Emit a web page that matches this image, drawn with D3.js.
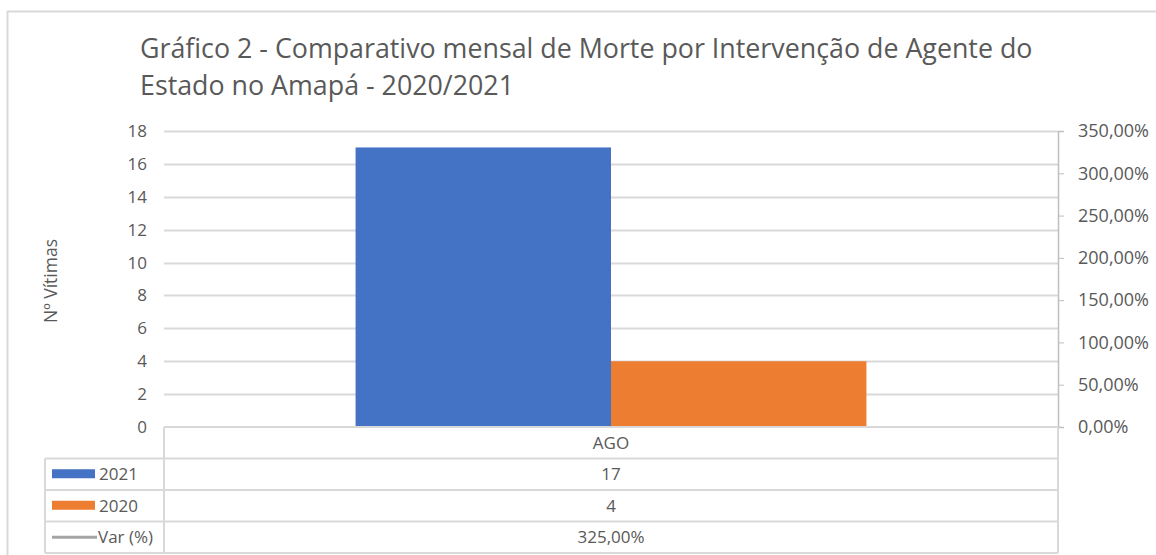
<!DOCTYPE html>
<html>
<head>
<meta charset="utf-8">
<script src="https://cdn.jsdelivr.net/npm/d3@7"></script>
<style>
  body { margin: 0; background: #fff; }
  svg text { font-family: 'Open Sans', 'Noto Sans', sans-serif; fill: #595959; }
</style>
</head>
<body>
<div id="chart"></div>
<script>
const categories = ['AGO'];
const seriesNames = ['2021', '2020', 'Var (%)'];
const values2021 = [17];
const values2020 = [4];
const varPct = [325];
const leftTicks = [0, 2, 4, 6, 8, 10, 12, 14, 16, 18];
const rightTicks = [0, 50, 100, 150, 200, 250, 300, 350];
const colors = ['#4472c4', '#ed7d31', '#a5a5a5'];

const W = 1156, H = 555;
const svg = d3.select('#chart')
  .append('svg')
  .attr('width', W)
  .attr('height', H)

// chart border
svg.append('rect')
  .attr('x', 7.5).attr('y', 11.5)
  .attr('width', W + 20).attr('height', H + 20)
  .attr('fill', 'none')
  .attr('stroke', '#d9d9d9')
  .attr('stroke-width', 2)

// title
const title = svg.append('text')
  .attr('x', 140)
  .style('font-size', '26.8px')
title.append('tspan').attr('x', 140).attr('y', 58)
  .text('Gráfico 2 - Comparativo mensal de Morte por Intervenção de Agente do')
title.append('tspan').attr('x', 140).attr('y', 95)
  .text('Estado no Amapá - 2020/2021')

const pLeft = 164, pRight = 1058, pTop = 131, pBottom = 427;

const x = d3.scaleBand()
  .domain(categories)
  .range([pLeft, pRight])

const y = d3.scaleLinear()
  .domain([0, 18])
  .range([pBottom, pTop])

const y2 = d3.scaleLinear()
  .domain([0, 350])
  .range([pBottom, pTop])

// gridlines
svg.append('g')
  .selectAll('line')
  .data(leftTicks.filter(d => d > 0))
  .enter()
  .append('line')
  .attr('x1', pLeft).attr('x2', pRight)
  .attr('y1', d => Math.round(y(d)) + 0.5)
  .attr('y2', d => Math.round(y(d)) + 0.5)
  .attr('stroke', '#d9d9d9')
  .attr('stroke-width', 2)

// left axis labels
svg.append('g')
  .selectAll('text')
  .data(leftTicks)
  .enter()
  .append('text')
  .attr('x', 147)
  .attr('y', d => y(d) + 6)
  .attr('text-anchor', 'end')
  .style('font-size', '17px')
  .text(d => d)

// axis title
svg.append('text')
  .attr('transform', 'translate(57,' + ((pTop + pBottom) / 2 + 2) + ') rotate(-90)')
  .attr('text-anchor', 'middle')
  .style('font-size', '17.5px')
  .text('Nº Vítimas')

// right axis
const fmtPct = d => d3.format('.2f')(d).replace('.', ',') + '%';
const rAxis = svg.append('g')
  .attr('transform', 'translate(' + pRight + ',0)')
  .call(d3.axisRight(y2).tickValues(rightTicks).tickSize(6).tickPadding(14).tickFormat(fmtPct))
rAxis.select('.domain').attr('stroke', '#bfbfbf').attr('stroke-width', 1.5)
rAxis.selectAll('.tick line').attr('stroke', '#bfbfbf')
rAxis.selectAll('.tick text')
  .style('font-size', '18px')
  .attr('fill', '#595959')
  .style('font-family', "'Open Sans', sans-serif")

// bars: Excel gap width 150%
const gap = 1.5;
const barW = x.bandwidth() / (2 + gap);
const barData = categories.flatMap((c, i) => [
  { cat: c, s: '2021', v: values2021[i], k: 0 },
  { cat: c, s: '2020', v: values2020[i], k: 1 }
]);
svg.append('g')
  .selectAll('rect')
  .data(barData)
  .enter()
  .append('rect')
  .attr('x', d => x(d.cat) + barW * gap / 2 + d.k * barW)
  .attr('y', d => y(d.v))
  .attr('width', barW)
  .attr('height', d => y(0) - y(d.v))
  .attr('fill', d => colors[d.k])

// data table
const rowH = 31.5;
const tLeft = 45;
const tbl = svg.append('g').attr('fill', 'none').attr('stroke', '#d9d9d9').attr('stroke-width', 2)
tbl.append('line').attr('x1', pLeft).attr('x2', pRight).attr('y1', pBottom).attr('y2', pBottom)
for (let r = 1; r <= 4; r++) {
  tbl.append('line')
    .attr('x1', tLeft).attr('x2', pRight)
    .attr('y1', pBottom + r * rowH).attr('y2', pBottom + r * rowH)
}
tbl.append('line').attr('x1', pLeft).attr('x2', pLeft).attr('y1', pBottom).attr('y2', pBottom + 4 * rowH)
tbl.append('line').attr('x1', pRight).attr('x2', pRight).attr('y1', pBottom).attr('y2', pBottom + 4 * rowH)
tbl.append('line').attr('x1', tLeft).attr('x2', tLeft).attr('y1', pBottom + rowH).attr('y2', pBottom + 4 * rowH)

const cx = c => x(c) + x.bandwidth() / 2;
const rows = [
  categories,
  values2021.map(String),
  values2020.map(String),
  varPct.map(fmtPct)
];
rows.forEach((r, ri) => {
  svg.append('g')
    .selectAll('text')
    .data(r)
    .enter()
    .append('text')
    .attr('x', (d, i) => cx(categories[i]))
    .attr('y', pBottom + ri * rowH + rowH / 2 + 6)
    .attr('text-anchor', 'middle')
    .style('font-size', '17px')
    .text(d => d)
})

// legend keys in table
seriesNames.forEach((s, i) => {
  const cy = pBottom + (i + 1) * rowH + rowH / 2;
  if (i < 2) {
    svg.append('rect')
      .attr('x', 52).attr('y', cy - 5)
      .attr('width', 43).attr('height', 9)
      .attr('fill', colors[i])
  } else {
    svg.append('line')
      .attr('x1', 52).attr('x2', 97)
      .attr('y1', cy).attr('y2', cy)
      .attr('stroke', colors[i]).attr('stroke-width', 3)
  }
  svg.append('text')
    .attr('x', i < 2 ? 99 : 98)
    .attr('y', cy + 6)
    .style('font-size', '17px')
    .text(s)
})
</script>
</body>
</html>
